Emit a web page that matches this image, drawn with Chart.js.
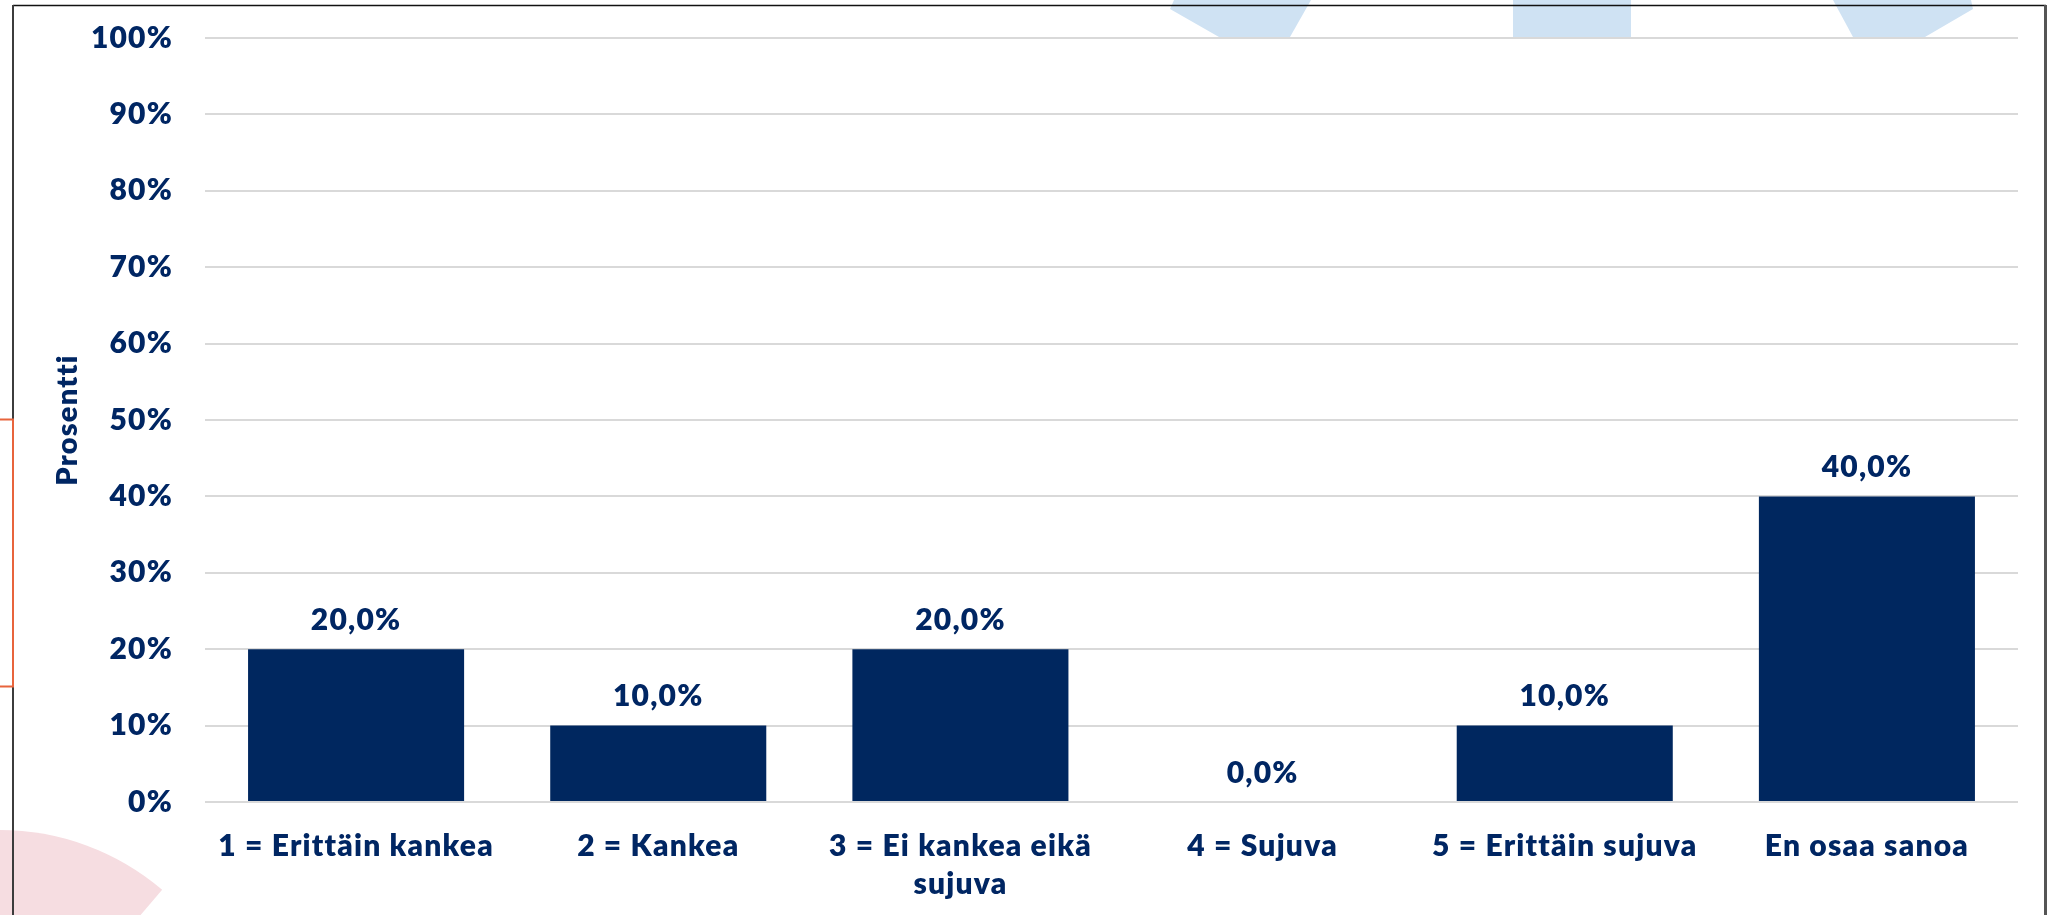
<!DOCTYPE html>
<html>
<head>
<meta charset="utf-8">
<script src="https://cdn.jsdelivr.net/npm/chart.js@4/dist/chart.umd.min.js"></script>
<style>
  html, body { margin: 0; padding: 0; background: #fff; }
  canvas { display: block; }
</style>
</head>
<body>
<canvas id="chart" width="2052" height="915"></canvas>
<script>
// Data
const categories = ['1 = Erittäin kankea', '2 = Kankea', ['3 = Ei kankea eikä', 'sujuva'], '4 = Sujuva', '5 = Erittäin sujuva', 'En osaa sanoa'];
const percentages = [20, 10, 20, 0, 10, 40];
const yMin = 0;
const yMax = 100;
const yStep = 10;
const yTitle = 'Prosentti';

const navy = '#002663';
const fontFamily = 'Lato, "Noto Sans", sans-serif';
const fontWeight = '800';

// Canvas letter spacing (Century Gothic is wider than Lato)
function spacing(chart) { chart.ctx.letterSpacing = '1.2px'; }

// Slide decorations behind the chart
const decorPlugin = {
    id: 'decor',
    beforeUpdate: spacing,
    beforeLayout: spacing,
    beforeDraw(chart) {
        spacing(chart);
        const c = chart.ctx;
        c.save();
        // pink sector bottom left
        c.fillStyle = '#f6dde1';
        c.beginPath();
        c.moveTo(0, 1080);
        c.arc(0, 1080, 250, -Math.PI, -0.865);
        c.closePath();
        c.fill();
        // light blue shapes at the top
        c.fillStyle = '#cfe2f3';
        const shapes = [
            [[1174, 0], [1170, 9], [1219, 37], [1290, 37], [1311, 0]],
            [[1513, 0], [1513, 37], [1631, 37], [1631, 0]],
            [[1833, 0], [1853, 37], [1925, 37], [1973, 9], [1971, 0]]
        ];
        shapes.forEach(pts => {
            c.beginPath();
            pts.forEach((p, i) => i ? c.lineTo(p[0], p[1]) : c.moveTo(p[0], p[1]));
            c.closePath();
            c.fill();
        });
        // frame
        c.strokeStyle = '#111';
        c.lineWidth = 1.5;
        c.beginPath(); c.moveTo(13, 5.5); c.lineTo(2046, 5.5); c.stroke();
        c.strokeStyle = '#3c3c3c';
        c.lineWidth = 2;
        c.beginPath(); c.moveTo(13, 5); c.lineTo(13, 915); c.stroke();
        c.strokeStyle = '#555';
        c.lineWidth = 3;
        c.beginPath(); c.moveTo(2045.5, 5); c.lineTo(2045.5, 915); c.stroke();
        // orange bracket on the left edge
        c.strokeStyle = '#e8643c';
        c.lineWidth = 2;
        c.beginPath();
        c.moveTo(0, 419.5); c.lineTo(13, 419.5); c.lineTo(13, 686.5); c.lineTo(0, 686.5);
        c.stroke();
        c.restore();
    },
    afterDatasetsDraw(chart) {
        const c = chart.ctx;
        const meta = chart.getDatasetMeta(0);
        c.save();
        c.font = fontWeight + ' 30px ' + fontFamily;
        c.fillStyle = navy;
        c.textAlign = 'center';
        c.textBaseline = 'middle';
        meta.data.forEach((bar, i) => {
            const txt = percentages[i].toFixed(1).replace('.', ',') + '%';
            c.fillText(txt, bar.x, bar.y - 29);
        });
        c.restore();
    }
};

new Chart(document.getElementById('chart'), {
    type: 'bar',
    data: {
        labels: categories,
        datasets: [{
            data: percentages,
            backgroundColor: '#00275f',
            categoryPercentage: 1,
            barPercentage: 0.715
        }]
    },
    options: {
        responsive: false,
        animation: false,
        devicePixelRatio: 1,
        layout: { padding: { top: 38, right: 34, left: 0, bottom: 0 } },
        plugins: { legend: { display: false }, tooltip: { enabled: false } },
        scales: {
            x: {
                grid: { display: false },
                border: { display: false },
                ticks: {
                    color: navy,
                    padding: 18,
                    maxRotation: 0,
                    autoSkip: false,
                    font: { family: fontFamily, size: 30, weight: fontWeight, lineHeight: 1.25 }
                },
                afterFit(scale) { scale.height = 113; }
            },
            y: {
                min: yMin,
                max: yMax,
                grid: { color: '#d9d9d9', lineWidth: 2, drawTicks: true, tickLength: 12, tickColor: 'rgba(0,0,0,0)' },
                border: { display: false },
                ticks: {
                    stepSize: yStep,
                    color: navy,
                    padding: 20,
                    font: { family: fontFamily, size: 30, weight: fontWeight },
                    callback: v => v + '%'
                },
                title: {
                    display: true,
                    text: yTitle,
                    color: navy,
                    padding: { top: 50, bottom: 0 },
                    font: { family: fontFamily, size: 29, weight: fontWeight }
                },
                afterFit(scale) { scale.width = 205; }
            }
        }
    },
    plugins: [decorPlugin]
});
</script>
</body>
</html>
